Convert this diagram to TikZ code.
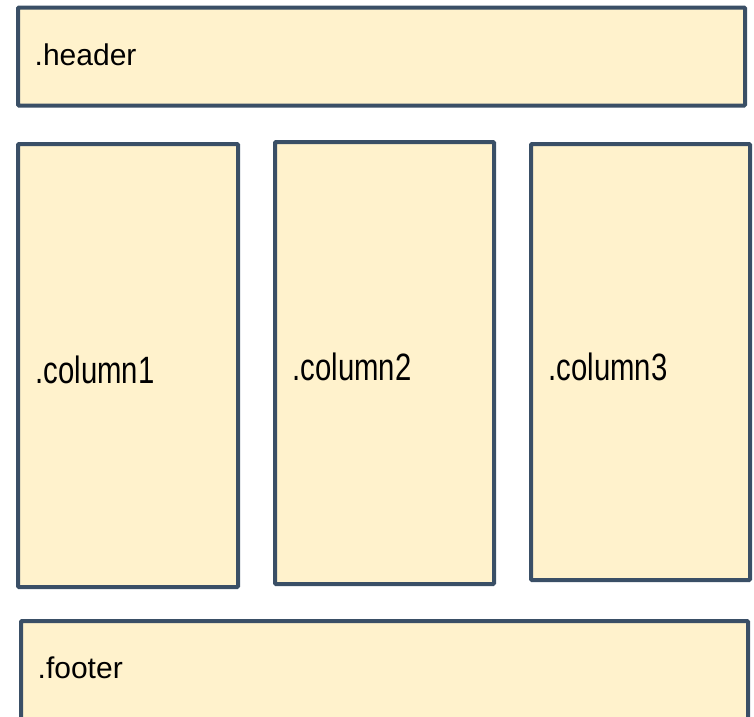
\documentclass[tikz,border=0pt]{standalone}
\usepackage{fontspec}
\setmainfont{Liberation Sans}
\definecolor{boxfill}{HTML}{FFF2CC}
\definecolor{boxline}{HTML}{3A4F66}
\begin{document}
\begin{tikzpicture}[x=1pt,y=-1pt,
  box/.style={draw=boxline,fill=boxfill,line width=4pt,rounded corners=1pt},
  lbl/.style={anchor=base west,inner sep=0pt,font=\fontsize{30}{36}\selectfont},
  clbl/.style={anchor=base west,inner sep=0pt,font=\fontsize{29.3}{35}\selectfont}]
\useasboundingbox (0,0) rectangle (754,716);
\draw[box] (18,7.5) rectangle (745,105.5);
\draw[box] (18,144) rectangle (238,587);
\draw[box] (275,142) rectangle (494,584);
\draw[box] (531,144) rectangle (750,580);
\draw[box] (21,621) rectangle (748,730);
\node[lbl] (h) at (34.5,65) {.header};
\node[clbl] (c1) at (35.5,383) {\scalebox{1}[1.3]{.column1}};
\node[clbl] (c2) at (292.5,380) {\scalebox{1}[1.3]{.column2}};
\node[clbl] (c3) at (548.5,380) {\scalebox{1}[1.3]{.column3}};
\node[lbl] (f) at (37.5,678) {.footer};
\end{tikzpicture}
\end{document}
